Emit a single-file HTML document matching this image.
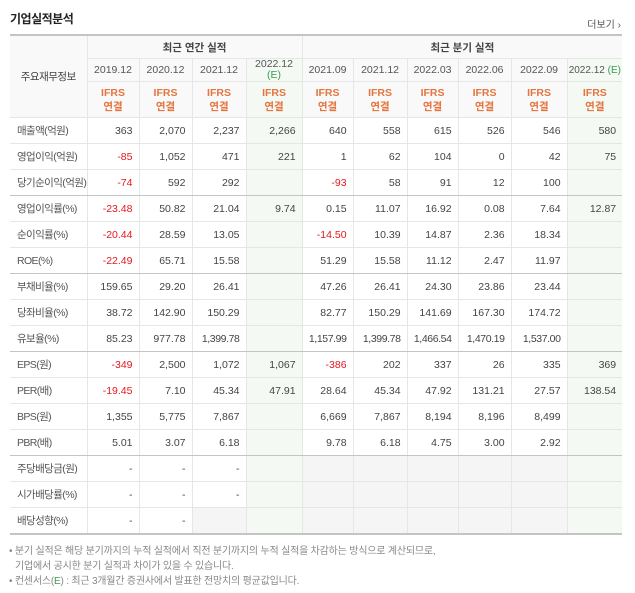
<!DOCTYPE html>
<html><head><meta charset="utf-8">
<style>
body{margin:0;width:635px;height:593px;background:#fff;font-family:"Liberation Sans","Noto Sans CJK KR",sans-serif;position:relative;overflow:hidden}
#title{position:absolute;left:10px;top:10px;font-size:12px;font-weight:bold;color:#222;letter-spacing:-0.5px}
#more{position:absolute;right:14px;top:16px;font-size:10px;color:#555}
table{position:absolute;left:10px;top:34px;border-collapse:collapse;table-layout:fixed;width:612px;font-size:10.5px}
td,th{border:1px solid #e6e6e6;padding:0;overflow:hidden;white-space:nowrap}
th{background:#f9f9f9;font-weight:normal;color:#444;text-align:center}
tr.h1 th{height:22px;font-weight:bold;color:#444}
tr.h2 th{height:22px;font-size:10.5px;color:#555}
tr.h3 th{height:35px;color:#e4753f;font-weight:bold;line-height:14px}
td{height:25px;text-align:right;padding-right:6px;color:#444}
td.lbl{text-align:left;padding-left:7px;color:#555;background:#fff;letter-spacing:-0.6px;font-size:10.5px}
.neg{color:#e4171e}
.est{background:#f4f9f4}
.gray{background:#f5f5f5}
.gl{border-left:1px solid #c4c4c4}
tr.gb td{border-bottom:1px solid #c4c4c4}
table{border-top:2px solid #c4c4c4;border-bottom:2px solid #c4c4c4}
td:first-child,th:first-child{border-left:none}
td:last-child,th:last-child{border-right:none}
.foot{position:absolute;left:9px;font-size:10px;color:#888;letter-spacing:-0.2px}
.e{color:#3a9a50}
</style></head><body>
<div id="title">기업실적분석</div>
<div id="more">더보기 ›</div>
<table id="t">
<colgroup><col style="width:77px"><col style="width:52px"><col style="width:53px"><col style="width:54px"><col style="width:56px"><col style="width:51px"><col style="width:54px"><col style="width:51px"><col style="width:53px"><col style="width:56px"><col style="width:55px"></colgroup>
<tr class="h1"><th rowspan="3" style="font-weight:normal;letter-spacing:-0.5px">주요재무정보</th><th colspan="4" class="gl">최근 연간 실적</th><th colspan="6" class="gl">최근 분기 실적</th></tr>
<tr class="h2" id="h2"></tr>
<tr class="h3" id="h3"></tr>
</table>
<div class="foot" style="top:542px">• 분기 실적은 해당 분기까지의 누적 실적에서 직전 분기까지의 누적 실적을 차감하는 방식으로 계산되므로,</div>
<div class="foot" style="top:557px;left:15px">기업에서 공시한 분기 실적과 차이가 있을 수 있습니다.</div>
<div class="foot" style="top:572px">• 컨센서스(<span class="e">E</span>) : 최근 3개월간 증권사에서 발표한 전망치의 평균값입니다.</div>
<script>
const periods=['2019.12','2020.12','2021.12','2022.12','2021.09','2021.12','2022.03','2022.06','2022.09','2022.12'];
const estCols=[3,9];
const labels=['매출액(억원)','영업이익(억원)','당기순이익(억원)','영업이익률(%)','순이익률(%)','ROE(%)','부채비율(%)','당좌비율(%)','유보율(%)','EPS(원)','PER(배)','BPS(원)','PBR(배)','주당배당금(원)','시가배당률(%)','배당성향(%)'];
const values=[
['363','2,070','2,237','2,266','640','558','615','526','546','580'],
['-85','1,052','471','221','1','62','104','0','42','75'],
['-74','592','292','','-93','58','91','12','100',''],
['-23.48','50.82','21.04','9.74','0.15','11.07','16.92','0.08','7.64','12.87'],
['-20.44','28.59','13.05','','-14.50','10.39','14.87','2.36','18.34',''],
['-22.49','65.71','15.58','','51.29','15.58','11.12','2.47','11.97',''],
['159.65','29.20','26.41','','47.26','26.41','24.30','23.86','23.44',''],
['38.72','142.90','150.29','','82.77','150.29','141.69','167.30','174.72',''],
['85.23','977.78','1,399.78','','1,157.99','1,399.78','1,466.54','1,470.19','1,537.00',''],
['-349','2,500','1,072','1,067','-386','202','337','26','335','369'],
['-19.45','7.10','45.34','47.91','28.64','45.34','47.92','131.21','27.57','138.54'],
['1,355','5,775','7,867','','6,669','7,867','8,194','8,196','8,499',''],
['5.01','3.07','6.18','','9.78','6.18','4.75','3.00','2.92',''],
['-','-','-','','','','','','',''],
['-','-','-','','','','','','',''],
['-','-','','','','','','','','']
];
const groupEnds=[2,5,8,12];
const t=document.getElementById('t'),h2=document.getElementById('h2'),h3=document.getElementById('h3');
periods.forEach((p,i)=>{
  const a=document.createElement('th');
  
  
  const est=estCols.includes(i);
  if(est){a.className='est';a.innerHTML=i==3?p+'<br><span class="e" style="line-height:10px">(E)</span>':p+' <span class="e">(E)</span>';a.style.lineHeight='11px';}
  else a.textContent=p;
  if(i==0||i==4)a.classList.add('gl');
  if(i==9)a.style.fontSize='10px';
  h2.appendChild(a);
  const b=document.createElement('th');
  
  
  b.innerHTML='IFRS<br>연결';
  if(est)b.className='est';
  if(i==0||i==4)b.classList.add('gl');
  h3.appendChild(b);
});
labels.forEach((l,r)=>{
  const tr=document.createElement('tr');
  
  
  if(groupEnds.includes(r))tr.className='gb';
  const lc=document.createElement('td');
  lc.className='lbl';lc.textContent=l;
  
  
  tr.appendChild(lc);
  values[r].forEach((v,i)=>{
    const c=document.createElement('td');
    
    
    c.textContent=v;
    if(v.startsWith('-')&&v.length>1)c.classList.add('neg');
    if(estCols.includes(i))c.classList.add('est');
    else if(v===''&&r>=13)c.classList.add('gray');
    if(i==0||i==4)c.classList.add('gl');
    if(v.length>=8)c.style.letterSpacing='-0.4px';
    tr.appendChild(c);
  });
  t.appendChild(tr);
});
</script>
</body></html>
